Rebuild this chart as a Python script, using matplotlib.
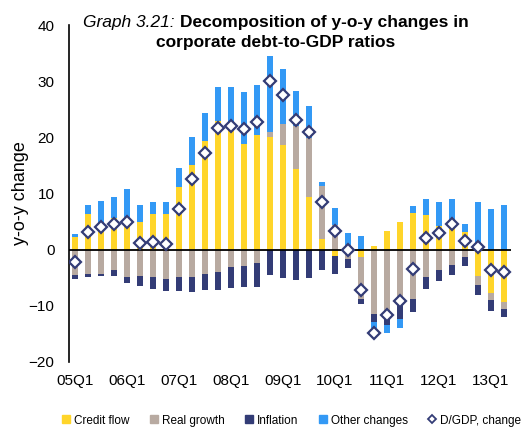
import matplotlib
matplotlib.use("Agg")
import matplotlib.pyplot as plt
from matplotlib.lines import Line2D
import numpy as np

plt.rcParams['font.family'] = ['Liberation Sans', 'DejaVu Sans']

quarters = ["05Q1","05Q2","05Q3","05Q4","06Q1","06Q2","06Q3","06Q4",
            "07Q1","07Q2","07Q3","07Q4","08Q1","08Q2","08Q3","08Q4",
            "09Q1","09Q2","09Q3","09Q4","10Q1","10Q2","10Q3","10Q4",
            "11Q1","11Q2","11Q3","11Q4","12Q1","12Q2","12Q3","12Q4",
            "13Q1","13Q2"]
credit_flow = [2.3, 6.3, 4.8, 5.7, 5.8, 4.9, 6.4, 6.3,
               11.2, 15.0, 19.4, 22.9, 22.3, 18.9, 20.4, 20.1,
               18.7, 14.4, 9.35, 1.95, -1.2, 0.0, -1.3, 0.65,
               3.4, 4.85, 6.6, 6.1, 4.25, 5.0, 3.1, -4.7,
               -7.8, -9.35]
real_growth = [-4.6, -4.4, -4.3, -3.7, -4.8, -4.7, -4.9, -5.2,
               -4.85, -4.9, -4.35, -4.0, -3.1, -2.95, -2.4, 0.9,
               3.6, 7.6, 10.55, 9.3, 4.45, -1.65, -7.4, -11.4,
               -11.65, -9.05, -8.7, -4.85, -3.55, -2.65, -1.35, -1.6,
               -1.2, -1.3]
inflation = [-0.6, -0.5, -0.4, -1.0, -1.2, -1.8, -2.1, -2.2,
             -2.55, -2.6, -2.85, -3.2, -3.7, -3.65, -4.2, -4.6,
             -5.0, -5.45, -5.0, -3.7, -3.05, -1.6, -1.05, -1.45,
             -1.75, -3.35, -2.4, -2.15, -1.95, -1.9, -1.6, -1.7,
             -1.95, -1.35]
other_changes = [0.5, 1.6, 3.8, 3.7, 5.0, 3.0, 2.1, 2.2,
                 3.4, 5.1, 4.9, 6.05, 6.6, 9.2, 8.85, 13.5,
                 9.85, 6.2, 5.7, 0.75, 2.95, 2.95, 2.5, -1.15,
                 -1.5, -1.5, 1.2, 2.95, 4.25, 4.0, 1.4, 8.5,
                 7.3, 7.9]
dgdp_change = [-2.2, 3.2, 4.0, 4.6, 4.85, 1.2, 1.3, 1.0,
               7.3, 12.6, 17.2, 21.7, 22.1, 21.4, 22.8, 30.1,
               27.5, 23.1, 21.0, 8.5, 3.4, -0.1, -7.1, -14.8,
               -11.7, -9.2, -3.4, 2.1, 2.95, 4.55, 1.6, 0.5,
               -3.6, -4.0]
series_names = ["Credit flow", "Real growth", "Inflation", "Other changes"]
line_name = "D/GDP, change"
colors = ["#FFD52A", "#B8AAA1", "#333C76", "#3399F5"]
tick_labels = ["05Q1","06Q1","07Q1","08Q1","09Q1","10Q1","11Q1","12Q1","13Q1"]

fig = plt.figure(figsize=(5.27, 4.29), dpi=100)
ax = fig.add_axes([0.130, 0.1562, 0.8387, 0.7855])

x = np.arange(len(quarters))
pos_bottom = np.zeros(len(x))
neg_bottom = np.zeros(len(x))
for vals, col in zip([credit_flow, real_growth, inflation, other_changes], colors):
    v = np.array(vals, dtype=float)
    bottoms = np.where(v >= 0, pos_bottom, neg_bottom)
    ax.bar(x, v, bottom=bottoms, width=0.42, color=col, linewidth=0)
    pos_bottom = pos_bottom + np.where(v >= 0, v, 0)
    neg_bottom = neg_bottom + np.where(v < 0, v, 0)

ax.plot(x, dgdp_change, linestyle='none', marker='D', markersize=6,
        markerfacecolor='white', markeredgecolor='#333C76', markeredgewidth=1.6, zorder=5)

ax.axhline(0, color='black', linewidth=1.3, zorder=4)
ax.set_xlim(-0.5, 33.5)
ax.set_ylim(-20, 40)
ax.set_yticks(range(-20, 41, 10))
ax.set_xticks([quarters.index(t) for t in tick_labels])
ax.set_xticklabels(tick_labels)
ax.tick_params(axis='y', length=0, pad=10, labelsize=11)
ax.tick_params(axis='x', length=0, pad=9, labelsize=11)
for s in ['top', 'right', 'bottom']:
    ax.spines[s].set_visible(False)
ax.spines['left'].set_linewidth(1.2)
ax.set_ylabel("y-o-y change", fontsize=13, labelpad=0)

# legend
handles = [Line2D([], [], linestyle='none', marker='s', markersize=6,
                  markerfacecolor=c, markeredgecolor=c) for c in colors]
handles.append(Line2D([], [], linestyle='none', marker='D', markersize=4.5,
                      markerfacecolor='white', markeredgecolor='#333C76', markeredgewidth=1.3))
fig.legend(handles, series_names + [line_name], loc='lower center',
           bbox_to_anchor=(0.553, -0.008), ncol=5, frameon=False, fontsize=8.5,
           handlelength=0.7, handletextpad=0.3, columnspacing=1.75,
           borderpad=0.0)

# title
fig.canvas.draw()
r = fig.canvas.get_renderer()
t1 = fig.text(0, 1 - 23/429, "Graph 3.21: ", fontsize=12.5, style='italic', va='center', ha='left')
t2 = fig.text(0, 1 - 23/429, "Decomposition of y-o-y changes in", fontsize=12.5,
              fontweight='bold', va='center', ha='left')
w1 = t1.get_window_extent(r).width
w2 = t2.get_window_extent(r).width
start = 276 - (w1 + w2) / 2
t1.set_x(start / 527)
t2.set_x((start + w1) / 527)
fig.text(276/527, 1 - 43/429, "corporate debt-to-GDP ratios", fontsize=12.5,
         fontweight='bold', va='center', ha='center')

fig.savefig("out.png", dpi=100)
